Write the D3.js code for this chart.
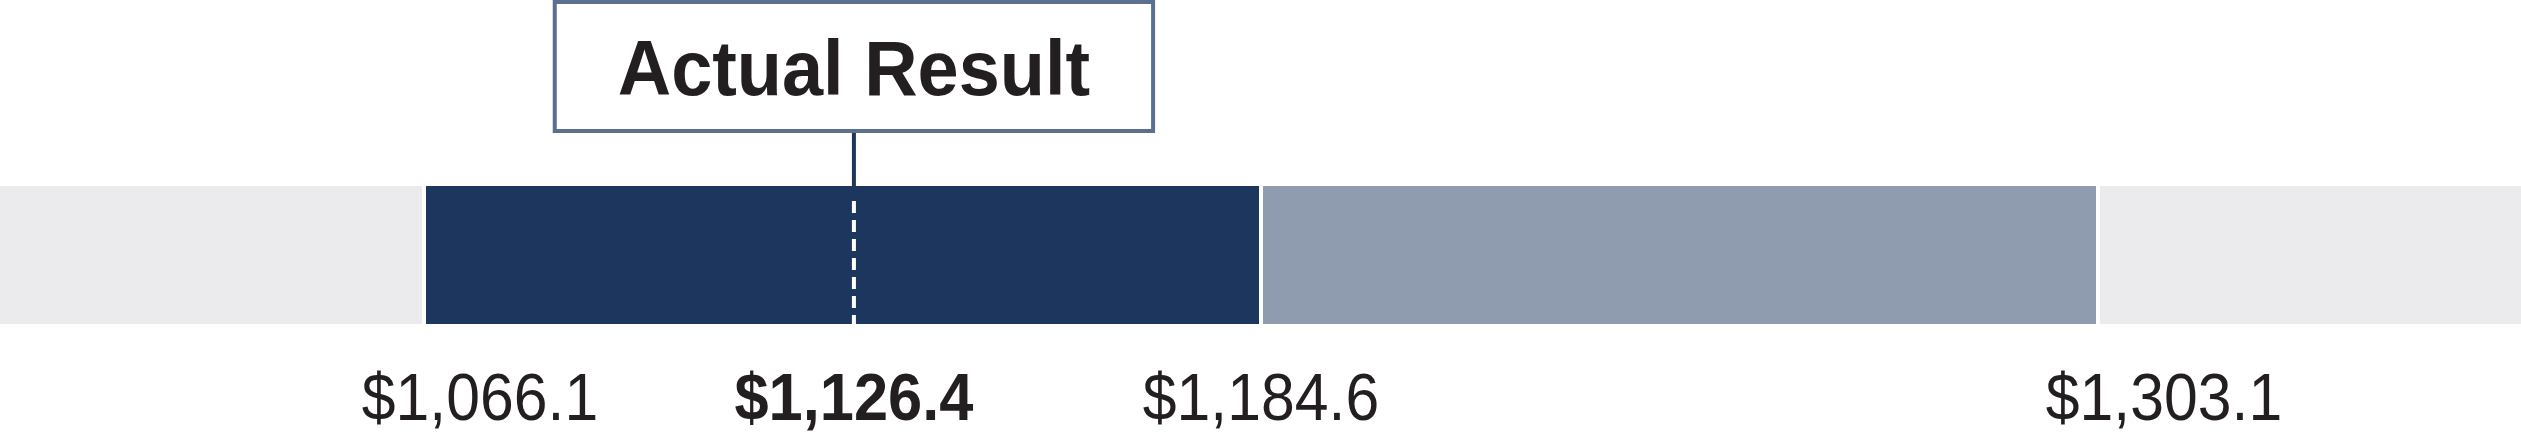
<!DOCTYPE html>
<html>
<head>
<meta charset="utf-8">
<script src="https://cdn.jsdelivr.net/npm/d3@7"></script>
<style>
  html, body { margin: 0; padding: 0; background: #fff; }
  .graph-text { font-family: "Liberation Sans", Arial, sans-serif; fill: #231f20; }
</style>
</head>
<body>
<div class="graph"></div>
<script>
// range segments (low -> mid -> high) and the actual result
const bandEdges = [1066.1, 1184.6, 1303.1]
const bandNames = ["lower", "upper"]
const actualValue = 1126.4
const actualLabel = "Actual Result"
const tickValues = [1066.1, 1126.4, 1184.6, 1303.1]
const tickLabels = ["$1,066.1", "$1,126.4", "$1,184.6", "$1,303.1"]
const boldTicks = [false, true, false, false]

let width = 2521
let height = 434

let svg = d3.select(".graph")
    .append("svg")
    .attr("width", width)
    .attr("height", height)

let x = d3.scaleLinear()
    .domain([1006.07, 1362.99])
    .range([0, width])

let barTop = 186
let barHeight = 138
let colors = { lower: "#1d365e", upper: "#8f9baf" }

// grey track behind everything
svg.append("rect")
    .attr("x", x(x.domain()[0]))
    .attr("width", x(x.domain()[1]) - x(x.domain()[0]))
    .attr("y", barTop)
    .attr("height", barHeight)
    .attr("fill", "#ebebed")

let segments = bandNames.map((name, i) => {
    return { name: name, from: bandEdges[i], to: bandEdges[i + 1] }
})

svg.selectAll(".seg")
    .data(segments)
    .enter()
    .append("rect")
    .attr("class", "seg")
    .attr("x", d => x(d.from))
    .attr("width", d => x(d.to) - x(d.from))
    .attr("y", barTop)
    .attr("height", barHeight)
    .attr("fill", d => colors[d.name])

// white separators at the segment edges
svg.selectAll(".sep")
    .data(bandEdges)
    .enter()
    .append("line")
    .attr("class", "sep")
    .attr("x1", d => x(d))
    .attr("x2", d => x(d))
    .attr("y1", barTop)
    .attr("y2", barTop + barHeight)
    .attr("stroke", "#fff")
    .attr("stroke-width", 4)

// dashed marker for the actual value
let ax = x(actualValue) + 4
svg.append("line")
    .attr("x1", ax).attr("x2", ax)
    .attr("y1", barTop + 15)
    .attr("y2", barTop + barHeight)
    .attr("stroke", "#fff")
    .attr("stroke-width", 4)
    .attr("stroke-dasharray", "12 7")

// callout box
let title = svg.append("text")
    .attr("class", "graph-text")
    .attr("text-anchor", "middle")
    .attr("font-weight", "bold")
    .attr("font-size", 77)
    .attr("transform", `translate(${ax},95) scale(0.96,1)`)
    .text(actualLabel)

let titleW = title.node().getComputedTextLength() * 0.96
let padX = 63
let boxTop = 2
let boxBottom = 131

svg.insert("rect", "text")
    .attr("x", ax - titleW / 2 - padX)
    .attr("y", boxTop)
    .attr("width", titleW + padX * 2)
    .attr("height", boxBottom - boxTop)
    .attr("fill", "#fff")
    .attr("stroke", "#5b6f8e")
    .attr("stroke-width", 4)

svg.append("line")
    .attr("x1", ax).attr("x2", ax)
    .attr("y1", boxBottom + 2)
    .attr("y2", barTop)
    .attr("stroke", "#1d365e")
    .attr("stroke-width", 4)

// value labels under the bar
let labelNudge = [56, 4, 0, 66]

svg.selectAll(".tick-label")
    .data(tickValues)
    .enter()
    .append("text")
    .attr("class", "graph-text tick-label")
    .attr("text-anchor", "middle")
    .attr("font-size", 66)
    .attr("font-family", (d, i) => boldTicks[i] ? null : "Roboto, 'Liberation Sans', sans-serif")
    .attr("font-weight", (d, i) => boldTicks[i] ? "bold" : 300)
    .attr("transform", (d, i) => {
        let s = boldTicks[i] ? 0.93 : 0.92
        return "translate(" + (x(d) + labelNudge[i]) + ",420) scale(" + s + ",1)"
    })
    .text((d, i) => tickLabels[i])
</script>
</body>
</html>
